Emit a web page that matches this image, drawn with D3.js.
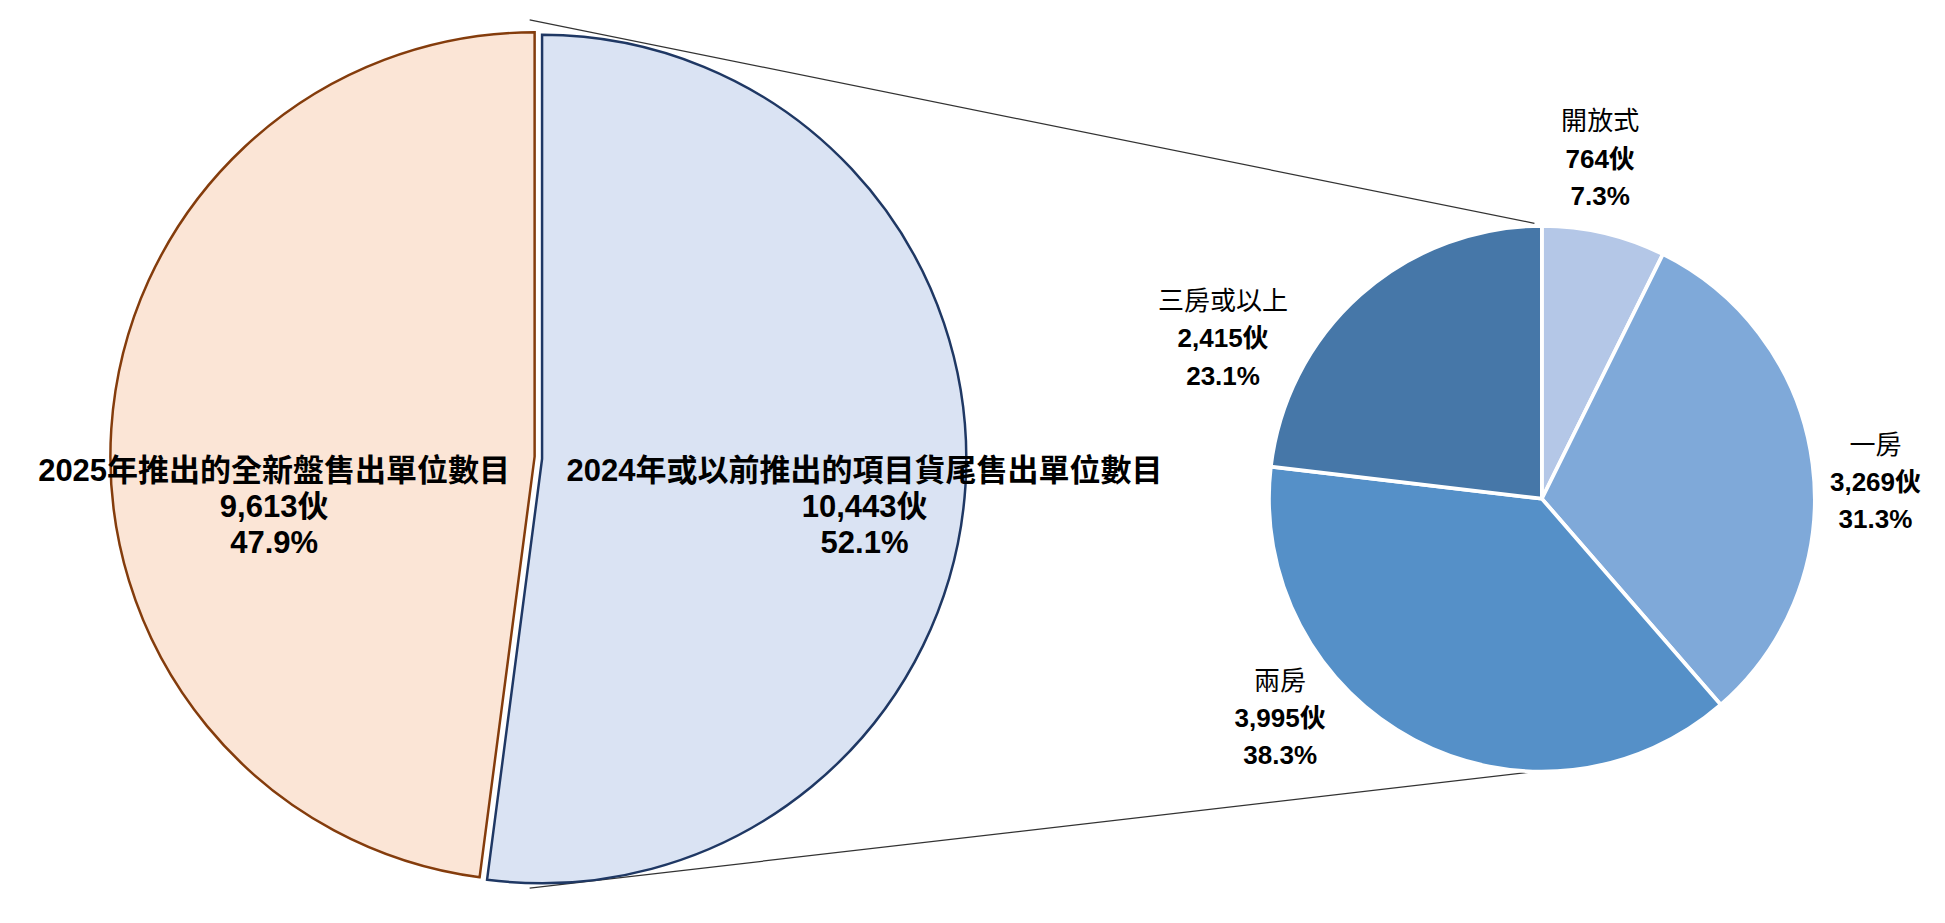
<!DOCTYPE html>
<html><head><meta charset="utf-8">
<script src="https://cdn.jsdelivr.net/npm/d3@7"></script>
<style>body{margin:0;background:#fff}text{font-family:"Liberation Sans","Noto Sans CJK TC",sans-serif;fill:#000}</style>
</head><body>
<script>
const mainCategories = ["2024年或以前推出的項目貨尾售出單位數目","2025年推出的全新盤售出單位數目"];
const mainValues = [10443, 9613];
const mainPct = ["52.1%","47.9%"];
const subCategories = ["開放式","一房","兩房","三房或以上"];
const subValues = [764, 3269, 3995, 2415];
const subPct = ["7.3%","31.3%","38.3%","23.1%"];

const svg = d3.select("body").append("svg").attr("width",1945).attr("height",923).attr("viewBox","0 0 1568 744");
const fmt = d3.format(",");

svg.append("line").attr("x1",427).attr("y1",16).attr("x2",1237).attr("y2",180).attr("stroke","#333").attr("stroke-width",1);
svg.append("line").attr("x1",427).attr("y1",716).attr("x2",1237).attr("y2",622).attr("stroke","#333").attr("stroke-width",1);

const mainArcs = d3.pie().sort(null)(mainValues);
const r1 = 342;
const mainFill = ["#dae3f3","#fbe5d6"], mainStroke = ["#1f3864","#843c0c"];
const mainCenters = [[437,370],[431,368]];
mainArcs.forEach((a,i)=>{
  svg.append("path").attr("transform",`translate(${mainCenters[i]})`)
    .attr("d",d3.arc().innerRadius(0).outerRadius(r1)(a))
    .attr("fill",mainFill[i]).attr("stroke",mainStroke[i]).attr("stroke-width",2);
});
const mainLabelPos = [[697,388],[221,388]];
mainArcs.forEach((a,i)=>{
  const t = svg.append("text").attr("text-anchor","middle").attr("font-size",25).attr("font-weight","bold");
  [mainCategories[i], fmt(mainValues[i])+"伙", mainPct[i]].forEach((s,j)=>
    t.append("tspan").attr("x",mainLabelPos[i][0]).attr("y",mainLabelPos[i][1]+j*29).text(s));
});

const subArcs = d3.pie().sort(null)(subValues);
const r2 = 220, c2 = [1243,402];
const subFill = ["#b4c7e7","#7fa9d9","#5590c8","#4677a8"];
const g2 = svg.append("g").attr("transform",`translate(${c2})`);
g2.selectAll("path").data(subArcs).join("path")
  .attr("d",d3.arc().innerRadius(0).outerRadius(r2))
  .attr("fill",(d,i)=>subFill[i]).attr("stroke","#fff").attr("stroke-width",3);
const subLabelPos = [[1290,105],[1512,366],[1032,556],[986,250]];
subArcs.forEach((a,i)=>{
  const t = svg.append("text").attr("text-anchor","middle").attr("font-size",21);
  [subCategories[i], fmt(subValues[i])+"伙", subPct[i]].forEach((s,j)=>
    t.append("tspan").attr("x",subLabelPos[i][0]).attr("y",subLabelPos[i][1]+j*30)
      .attr("font-weight", j===0 ? "normal" : "bold").text(s));
});
</script>
</body></html>
